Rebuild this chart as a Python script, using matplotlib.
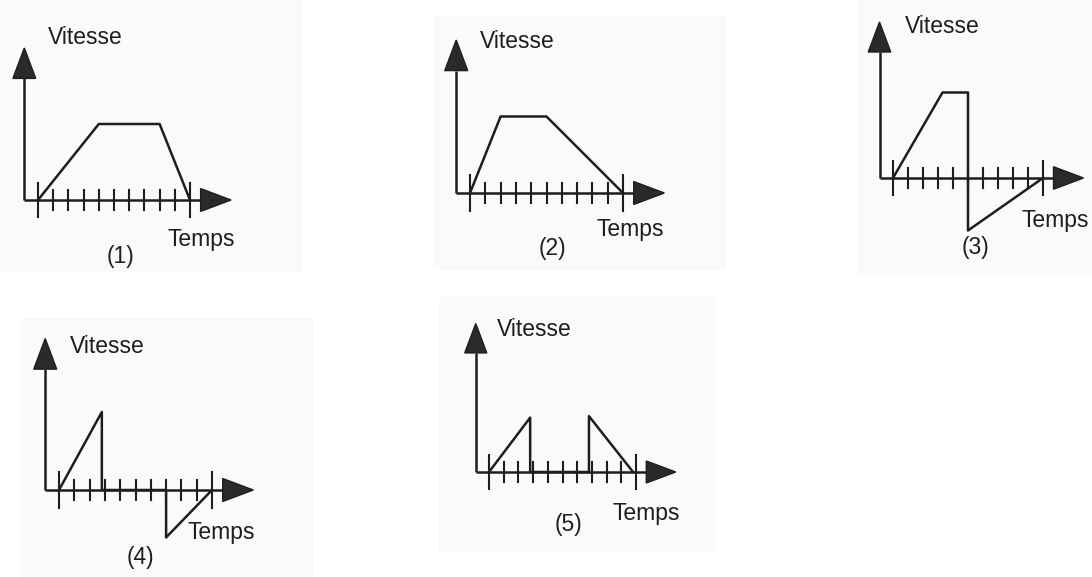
import numpy as np
import matplotlib.pyplot as plt
from matplotlib.patches import Polygon, Rectangle

plt.rcParams['font.family'] = ['Liberation Sans', 'DejaVu Sans']

# Courbes vitesse-temps (temps en graduations, vitesse en graduations)
t1 = [0, 4, 8, 10]
v1 = [0, 5, 5, 0]
t2 = [0, 2, 5, 10]
v2 = [0, 5, 5, 0]
t3 = [0, 3.3, 5, 5, 10]
v3 = [0, 5.7, 5.7, -3.5, 0]
t4 = [0, 2.8, 2.8, 7, 7, 10]
v4 = [0, 5.1, 0, 0, -3.1, 0]
t5 = [0, 2.8, 2.8, 6.8, 6.8, 9.8]
v5 = [0, 3.7, 0, 0, 3.8, 0]

courbes = [(t1, v1), (t2, v2), (t3, v3), (t4, v4), (t5, v5)]
numeros = ['(1)', '(2)', '(3)', '(4)', '(5)']
graduations = np.arange(0, 11)

# placement des panneaux : origine en pixels et pixels par graduation
origines = [(38, 200), (470, 193), (893, 178), (59, 490), (489, 472)]
echelles = [15.2, 15.3, 15.0, 15.3, 14.7]
hauts_axe_v = [10.0, 10.0, 10.4, 9.9, 10.1]
pos_vitesse = [(0.66, 10.7), (0.65, 9.9), (0.8, 10.1), (0.7, 9.35), (0.55, 9.7)]
pos_temps = [(8.5, -2.6), (8.3, -2.4), (8.6, -2.8), (8.4, -2.8), (8.4, -2.8)]
pos_numero = [(5.4, -3.75), (5.4, -3.6), (5.5, -4.6), (5.3, -4.4), (5.4, -3.6)]
# feuilles scannees (x0, y0, x1, y1) en pixels
feuilles = [(0, 0, 303, 273), (433, 15, 726, 270), (857, 0, 1092, 277),
            (20, 318, 313, 577), (439, 297, 716, 552)]

W, H = 1092, 577
fig = plt.figure(figsize=(W / 100, H / 100), dpi=100)

# fond : une axe sur toute la figure pour les feuilles
fond = fig.add_axes([0, 0, 1, 1], zorder=-1)
fond.set_xlim(0, W)
fond.set_ylim(H, 0)
fond.axis('off')
for x0, y0, x1, y1 in feuilles:
    fond.add_patch(Rectangle((x0, y0), x1 - x0, y1 - y0, color='#fafafa', lw=0))

xlim = (-2.0, 14.5)
ylim = (-6.0, 12.0)
encre = '#1e1e1e'

for i, (t, v) in enumerate(courbes):
    ox, oy = origines[i]
    s = echelles[i]
    left = (ox + xlim[0] * s) / W
    width = (xlim[1] - xlim[0]) * s / W
    bottom = 1 - (oy - ylim[0] * s) / H
    height = (ylim[1] - ylim[0]) * s / H
    ax = fig.add_axes([left, bottom, width, height])
    ax.set_xlim(*xlim)
    ax.set_ylim(*ylim)
    ax.axis('off')
    ax.patch.set_alpha(0)

    x_axe_v = -0.9
    fin_t = 12.7
    haut = hauts_axe_v[i]
    fl, lg = 2.0, 0.75  # longueur et demi-largeur des fleches

    # axe des vitesses
    ax.plot([x_axe_v, x_axe_v], [0, haut - fl], color=encre, lw=1.8, solid_capstyle='butt')
    ax.add_patch(Polygon([[x_axe_v - lg, haut - fl], [x_axe_v + lg, haut - fl], [x_axe_v, haut]],
                         closed=True, facecolor='#2a2a2a', edgecolor=encre, lw=1))
    # axe des temps
    ax.plot([x_axe_v, fin_t - fl], [0, 0], color=encre, lw=1.8, solid_capstyle='butt')
    ax.add_patch(Polygon([[fin_t - fl, -lg], [fin_t - fl, lg], [fin_t, 0]],
                         closed=True, facecolor='#2a2a2a', edgecolor=encre, lw=1))

    # graduations
    for g in graduations:
        demi = 1.15 if g in (0, 10) else 0.65
        ax.plot([g, g], [-demi, demi], color=encre, lw=1.5)

    ax.plot(t, v, color=encre, lw=1.8)

    ax.text(*pos_vitesse[i], 'Vitesse', fontsize=16.5, color=encre, ha='left', va='center')
    ax.text(*pos_temps[i], 'Temps', fontsize=16.5, color=encre, ha='left', va='center')
    ax.text(*pos_numero[i], numeros[i], fontsize=16.5, color=encre, ha='center', va='center')

fig.savefig('out.png', dpi=100, facecolor='white')
